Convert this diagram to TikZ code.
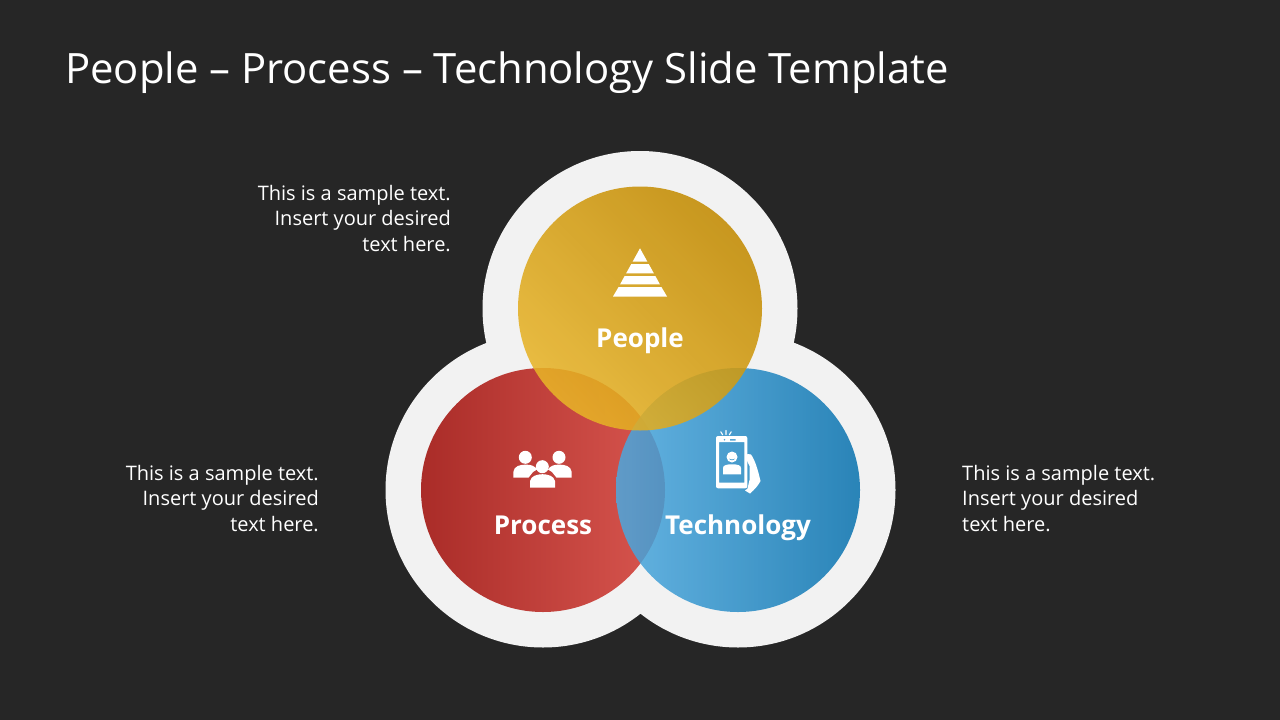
\documentclass[tikz,border=0pt]{standalone}
\usepackage{fontspec}
\setmainfont{Open Sans}
\definecolor{bg}{HTML}{262626}
\definecolor{halo}{HTML}{F2F2F2}
\definecolor{redA}{HTML}{AA2C28}
\definecolor{redB}{HTML}{D8564F}
\definecolor{bluA}{HTML}{4DA9DF}
\definecolor{bluB}{HTML}{0771AE}
\definecolor{yelA}{HTML}{E8B428}
\definecolor{yelB}{HTML}{C28A00}
\definecolor{blucut}{HTML}{5AA6D4}
\tikzset{
  body/.style={font=\fontsize{20}{25.5}\selectfont,text=white,align=right,inner sep=0pt},
  bodyl/.style={body,align=left},
  lab/.style={font=\fontsize{26}{30}\selectfont\bfseries,text=white,inner sep=0pt,anchor=base},
  icon/.style={fill=white,draw=none}
}
\begin{document}
\begin{tikzpicture}[x=1pt,y=-1pt]
\useasboundingbox (0,0) rectangle (1280,720);
\fill[bg] (0,0) rectangle (1280,720);
\node[font=\fontsize{41.8}{50}\selectfont,text=white,inner sep=0pt,anchor=base west] (title) at (65,83) {People – Process – Technology Slide Template};
% halo
\fill[halo] (640,308.5) circle (157.5) (543,490) circle (157.5) (738,490) circle (157.5);
% circles
\shade[left color=redA,right color=redB] (543,490) circle (122);
\shade[left color=bluA,right color=bluB,opacity=.85] (738,490) circle (122);
\shade[left color=yelA,right color=yelB,shading angle=135,opacity=.87] (640,308.5) circle (122);
% pyramid
\fill[icon] (640,248.3) -- (647.4,261.7) -- (632.6,261.7) -- cycle
 (631.3,264) -- (648.7,264) -- (653.85,273.3) -- (626.15,273.3) -- cycle
 (624.65,276) -- (655.35,276) -- (659.9,284.3) -- (620.1,284.3) -- cycle
 (618.6,287) -- (661.4,287) -- (667,296.5) -- (613,296.5) -- cycle;
% people
\fill[icon] (525.3,457.3) circle (6.5) (559,457.3) circle (6.5) (542.3,466.7) circle (6.5);
\fill[icon] (513.3,477.7) -- (513.3,472) .. controls (514,466) and (520,464.6) .. (526,464.6)
  .. controls (531,464.6) and (535,466) .. (537,469.5) -- (533,472) -- (528.5,477.7) -- cycle;
\fill[icon] (571.7,477.7) -- (571.7,472) .. controls (571,466) and (565,464.6) .. (559,464.6)
  .. controls (554,464.6) and (550,466) .. (548,469.5) -- (552,472) -- (556.5,477.7) -- cycle;
\fill[icon] (530,487.7) -- (530,481) .. controls (531,476) and (537,474.2) .. (542.5,474.2)
  .. controls (548,474.2) and (554,476) .. (555,481) -- (555,487.7) -- cycle;
% phone
\fill[icon,even odd rule] (718,436) -- (745.3,436) .. controls (746.4,436) and (747.3,436.9) .. (747.3,438) -- (747.3,486.3) .. controls (747.3,487.4) and (746.4,488.3) .. (745.3,488.3) -- (718,488.3) .. controls (716.9,488.3) and (716,487.4) .. (716,486.3) -- (716,438) .. controls (716,436.9) and (716.9,436) .. (718,436) -- cycle
  (719,442) rectangle (744.3,482.7);
\fill[blucut] (724.5,439.8) circle (0.9) (730,439) rectangle (735.5,440.6);
\fill[icon] (732,457) circle (5.5);
\fill[blucut] (729,458.5) .. controls (730,460.8) and (734,460.8) .. (735,458.5) .. controls (734,459.6) and (730,459.6) .. (729,458.5) -- cycle;
\fill[icon] (723,474.3) -- (723,468) .. controls (723,465) and (727,464.3) .. (732,464.3)
  .. controls (737,464.3) and (741,465) .. (741,468) -- (741,474.3) -- cycle;
\draw[white,line width=1.1pt,line cap=round] (726,430.5) -- (726,434.5) (720.8,431.8) -- (722.6,434.8) (731.2,431.8) -- (729.4,434.8);
\fill[icon] (745,456.5) .. controls (746,454) and (749,453) .. (751,454.5)
  .. controls (755,460) and (758,470) .. (760.5,481)
  .. controls (758,486) and (754,490) .. (750,493.5)
  -- (745,490.5) -- (747.5,488.5) -- (749.5,480) -- (749.5,466) -- cycle;
% labels
\node[lab] (people) at (640,347) {People};
\node[lab] (process) at (543,534) {Process};
\node[lab] (technology) at (738,534) {Technology};
\node[body,anchor=base east] (t1) at (451,251) {This is a sample text.\\Insert your desired\\text here.};
\node[body,anchor=base east] (t2) at (319,531) {This is a sample text.\\Insert your desired\\text here.};
\node[bodyl,anchor=base west] (t3) at (962,531) {This is a sample text.\\Insert your desired\\text here.};
\end{tikzpicture}
\end{document}
